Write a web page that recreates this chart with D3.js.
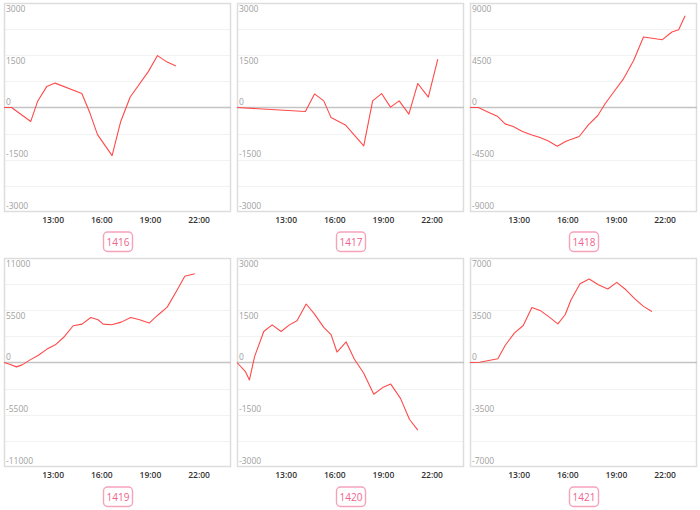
<!DOCTYPE html>
<html>
<head>
<meta charset="utf-8">
<script src="https://cdn.jsdelivr.net/npm/d3@7"></script>
<style>
  html, body { margin: 0; padding: 0; background: #fff; }
  svg { display: block; }
</style>
</head>
<body>
<svg id="chart" width="700" height="510"></svg>
<script>
// ---- data ----
const panelNames = ["1416", "1417", "1418", "1419", "1420", "1421"];
const panelLimits = [3000, 3000, 9000, 11000, 3000, 7000];
const xTickLabels = ["13:00", "16:00", "19:00", "22:00"];

const times1416 = ["10:00","10:28","11:39","12:04","12:38","13:09","14:48","15:18","15:46","16:40","17:12","17:47","18:54","19:28","20:02","20:36"];
const values1416 = [0, 0, -400, 170, 600, 700, 400, -160, -780, -1380, -400, 300, 1030, 1490, 1310, 1190];

const times1417 = ["10:00","14:13","14:47","15:21","15:48","16:41","17:49","18:22","18:55","19:28","20:00","20:36","21:09","21:48","22:23"];
const values1417 = [0, -115, 390, 190, -290, -500, -1100, 190, 400, 10, 190, -190, 690, 300, 1390];

const times1418 = ["10:00","10:31","11:08","11:41","12:10","12:40","13:14","13:49","14:19","14:50","15:23","15:55","16:44","17:18","17:53","18:20","18:53","19:28","20:05","20:42","21:52","22:27","22:52","23:16"];
const values1418 = [0, 0, -400, -750, -1410, -1640, -2070, -2360, -2590, -2880, -3340, -2900, -2500, -1500, -690, 320, 1380, 2470, 4030, 6070, 5840, 6500, 6700, 7900];

const times1419 = ["10:00","10:21","10:46","11:07","11:35","12:06","12:39","13:10","13:44","14:16","14:49","15:21","15:48","16:07","16:38","17:14","17:49","18:22","18:57","19:31","20:04","20:38","21:09","21:46"];
const values1419 = [0, -180, -460, -250, 250, 740, 1410, 1860, 2740, 3870, 4040, 4740, 4500, 4040, 3970, 4250, 4740, 4500, 4150, 5030, 5830, 7490, 9070, 9350];

const times1420 = ["10:00","10:31","10:46","11:05","11:39","12:10","12:43","13:14","13:42","14:16","14:47","15:21","15:48","16:10","16:44","17:14","17:49","18:26","18:59","19:29","20:05","20:38","21:09"];
const values1420 = [0, -260, -500, 170, 890, 1080, 890, 1080, 1200, 1680, 1390, 1010, 800, 300, 590, 100, -310, -910, -720, -620, -1030, -1630, -1940];

const times1421 = ["10:00","10:36","11:43","12:10","12:44","13:17","13:49","14:19","14:50","15:25","15:52","16:14","16:47","17:21","17:55","18:30","19:03","19:37","20:11","20:42","21:13"];
const values1421 = [0, 20, 250, 1140, 1970, 2480, 3690, 3490, 3090, 2590, 3200, 4200, 5280, 5590, 5210, 4920, 5370, 4870, 4250, 3760, 3420];

const panelTimes = [times1416, times1417, times1418, times1419, times1420, times1421];
const panelValues = [values1416, values1417, values1418, values1419, values1420, values1421];

// ---- drawing ----
const svg = d3.select("#chart");
const parseHM = s => { const [h, m] = s.split(":").map(Number); return h + m / 60; };

const colW = 233, rowH = 255;
const frame = { left: 4, right: 231, top: 3, bottom: 212 };

panelNames.forEach((name, i) => {
  const col = i % 3, row = Math.floor(i / 3);
  const g = svg.append("g").attr("transform", `translate(${col * colW},${row * rowH})`);
  const lim = panelLimits[i];

  const x = d3.scaleLinear().domain([10, 24]).range([frame.left, frame.right]);
  const y = d3.scaleLinear().domain([-lim, lim]).range([frame.bottom, frame.top]);

  // faint grid lines (8 bands)
  const gridVals = d3.range(-lim, lim + 1e-6, lim / 4);
  g.selectAll("line.grid").data(gridVals.filter(v => v !== 0 && Math.abs(v) !== lim))
    .join("line").attr("class", "grid")
    .attr("x1", frame.left).attr("x2", frame.right)
    .attr("y1", d => Math.round(y(d)) + 0.5).attr("y2", d => Math.round(y(d)) + 0.5)
    .attr("stroke", "#f2f2f2").attr("stroke-width", 1);

  // frame
  g.append("rect")
    .attr("x", frame.left + 0.5).attr("y", frame.top + 0.5)
    .attr("width", frame.right - frame.left - 1).attr("height", frame.bottom - frame.top - 1)
    .attr("fill", "none").attr("stroke", "#dddddd").attr("stroke-width", 1.5);

  // zero line
  g.append("line")
    .attr("x1", frame.left).attr("x2", frame.right)
    .attr("y1", y(0)).attr("y2", y(0))
    .attr("stroke", "#c4c4c4").attr("stroke-width", 1.5);

  // y labels
  const yLabels = [lim, lim / 2, 0, -lim / 2, -lim];
  g.selectAll("text.ylab").data(yLabels).join("text").attr("class", "ylab")
    .attr("x", frame.left + 2)
    .attr("y", d => d > 0 ? y(d) + 9 : y(d) - 3)
    .attr("font-family", "'Open Sans', 'Noto Sans', sans-serif")
    .attr("font-size", 8.5)
    .attr("fill", "#a0a0a0")
    .text(d => d);

  // x axis labels
  const xAxis = d3.axisBottom(x)
    .tickValues(xTickLabels.map(parseHM))
    .tickFormat((d, k) => xTickLabels[k])
    .tickSize(0).tickPadding(5);
  const ax = g.append("g").attr("transform", `translate(0,${frame.bottom})`).call(xAxis);
  ax.select(".domain").remove();
  ax.selectAll("text")
    .attr("font-family", "'Open Sans', 'Noto Sans', sans-serif")
    .attr("font-size", 8.5).attr("fill", "#333").attr("font-weight", 600);

  // line
  const pts = panelTimes[i].map((t, k) => [parseHM(t), panelValues[i][k]]);
  g.append("path")
    .datum(pts)
    .attr("fill", "none")
    .attr("stroke", "#ff4a4a")
    .attr("stroke-width", 1.1)
    .attr("stroke-linejoin", "round")
    .attr("d", d3.line().x(d => x(d[0])).y(d => y(d[1])));

  // name badge
  const cx = (frame.left + frame.right) / 2 + 0.5;
  g.append("rect")
    .attr("x", cx - 14.5).attr("y", 232)
    .attr("width", 29).attr("height", 19.5)
    .attr("rx", 4).attr("ry", 4)
    .attr("fill", "#fff").attr("stroke", "#f5a3ba").attr("stroke-width", 1.4);
  g.append("text")
    .attr("x", cx).attr("y", 246)
    .attr("text-anchor", "middle")
    .attr("font-family", "'Open Sans', 'Noto Sans', sans-serif")
    .attr("font-size", 10)
    .attr("fill", "#f0628e")
    .text(name);
});
</script>
</body>
</html>
